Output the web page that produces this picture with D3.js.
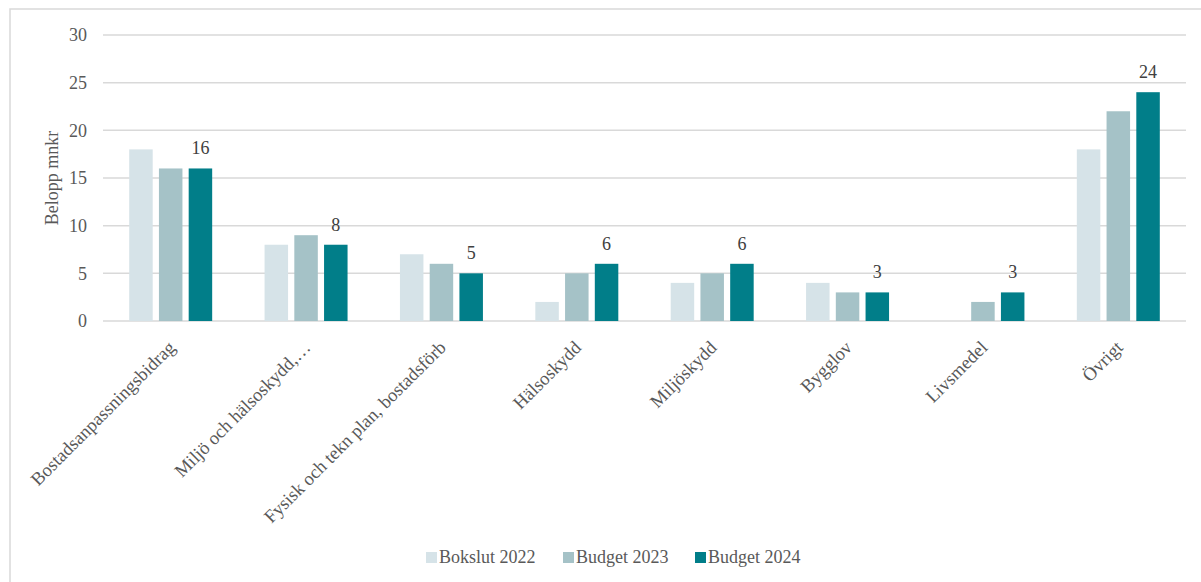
<!DOCTYPE html>
<html>
<head>
<meta charset="utf-8">
<script src="https://cdn.jsdelivr.net/npm/d3@7"></script>
<style>
  body { margin: 0; background: #fff; }
  svg, svg text { font-family: 'Liberation Serif', Tinos, 'Times New Roman', Times, serif !important; }
</style>
</head>
<body>
<div id="chart"></div>
<script>
const categories = [
  'Bostadsanpassningsbidrag',
  'Miljö och hälsoskydd,…',
  'Fysisk och tekn plan, bostadsförb',
  'Hälsoskydd',
  'Miljöskydd',
  'Bygglov',
  'Livsmedel',
  'Övrigt'
]
const seriesNames = ['Bokslut 2022', 'Budget 2023', 'Budget 2024']
const bokslut2022 = [18, 8, 7, 2, 4, 4, null, 18]
const budget2023 = [16, 9, 6, 5, 5, 3, 2, 22]
const budget2024 = [16, 8, 5, 6, 6, 3, 3, 24]
const yTicks = [0, 5, 10, 15, 20, 25, 30]

const colors = ['#d6e3e8', '#a5c2c7', '#017e89']
const textColor = '#595959'
const gridColor = '#d9d9d9'
const serif = "'Liberation Serif', Tinos, 'Times New Roman', Times, serif"

const width = 1201
const height = 582
const margin = { top: 35, left: 103, right: 15, bottom: 261 }

const svg = d3
  .select('#chart')
  .append('svg')
  .attr('width', width)
  .attr('height', height)
  .attr('font-family', serif)

// outer frame, only top and left edges are visible
svg
  .append('rect')
  .attr('x', 10)
  .attr('y', 9)
  .attr('width', width)
  .attr('height', height)
  .attr('fill', 'none')
  .attr('stroke', gridColor)
  .attr('stroke-width', 1.5)

const x0 = d3.scaleBand()
  .domain(categories)
  .range([margin.left, width - margin.right])
  .paddingInner(0.387)
  .paddingOuter(0.1935)

const x1 = d3.scaleBand()
  .domain(seriesNames)
  .range([0, x0.bandwidth()])
  .paddingInner(0.21)

const y = d3.scaleLinear()
  .domain([0, 30])
  .range([height - margin.bottom, margin.top])

// gridlines
svg
  .selectAll('.grid')
  .data(yTicks)
  .enter()
  .append('line')
  .attr('class', 'grid')
  .attr('x1', margin.left)
  .attr('x2', width - margin.right)
  .attr('y1', d => y(d))
  .attr('y2', d => y(d))
  .attr('stroke', gridColor)
  .attr('stroke-width', 1.5)

const yAxis = svg
  .append('g')
  .attr('transform', 'translate(' + (margin.left - 16) + ',0)')
  .call(d3.axisLeft(y).tickValues(yTicks).tickSize(0).tickPadding(0))
  .attr('font-family', serif)
  .attr('font-size', 18)
yAxis.select('.domain').remove()
yAxis
  .selectAll('text')
  .attr('fill', textColor)

svg
  .append('text')
  .text('Belopp mnkr')
  .attr('transform', 'translate(58,' + (y(0) + y(30)) / 2 + ') rotate(-90)')
  .attr('text-anchor', 'middle')
  .attr('fill', textColor)
  .attr('font-size', 18)

const table = categories.map((c, i) => ({
  category: c,
  values: [bokslut2022[i], budget2023[i], budget2024[i]]
}))

const groups = svg
  .selectAll('.group')
  .data(table)
  .enter()
  .append('g')
  .attr('class', 'group')
  .attr('transform', d => 'translate(' + x0(d.category) + ',0)')

groups
  .selectAll('rect')
  .data(d => d.values.map((v, j) => ({ series: seriesNames[j], value: v, j: j })).filter(e => e.value !== null))
  .enter()
  .append('rect')
  .attr('x', d => x1(d.series))
  .attr('width', x1.bandwidth())
  .attr('y', d => y(d.value))
  .attr('height', d => y(0) - y(d.value))
  .attr('fill', d => colors[d.j])

// data labels only on the Budget 2024 series
groups
  .append('text')
  .text(d => d.values[2])
  .attr('x', x1('Budget 2024') + x1.bandwidth() / 2)
  .attr('y', d => y(d.values[2]) - 14)
  .attr('text-anchor', 'middle')
  .attr('fill', '#404040')
  .attr('font-size', 18)

// category labels at -45 degrees
svg
  .selectAll('.cat')
  .data(categories)
  .enter()
  .append('text')
  .attr('class', 'cat')
  .text(d => d)
  .attr('transform', d => 'translate(' + (x0(d) + x0.bandwidth() / 2 + 1) + ',' + (y(0) + 23) + ') rotate(-45)')
  .attr('dy', '0.35em')
  .attr('text-anchor', 'end')
  .attr('fill', textColor)
  .attr('font-size', 18.5)

// legend
const legendX = [426, 563, 695]
const legend = svg
  .selectAll('.legend')
  .data(seriesNames)
  .enter()
  .append('g')
  .attr('class', 'legend')
  .attr('transform', (d, i) => 'translate(' + legendX[i] + ',552)')

legend
  .append('rect')
  .attr('width', 11)
  .attr('height', 11)
  .attr('fill', (d, i) => colors[i])

legend
  .append('text')
  .text(d => d)
  .attr('x', 13)
  .attr('y', 11)
  .attr('fill', textColor)
  .attr('font-size', 18)
</script>
</body>
</html>
